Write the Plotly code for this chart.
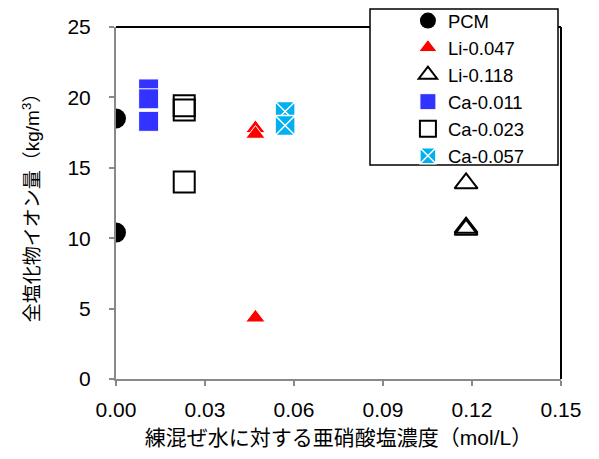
import plotly.graph_objects as go

pcm_x = [0.0, 0.0]
pcm_y = [18.5, 10.4]
li047_x = [0.047, 0.047, 0.047]
li047_y = [17.8, 17.4, 4.35]
li118_x = [0.118, 0.118, 0.118]
li118_y = [13.9, 10.75, 10.6]
ca011_x = [0.011, 0.011, 0.011]
ca011_y = [20.6, 19.9, 18.3]
ca023_x = [0.023, 0.023, 0.023]
ca023_y = [19.4, 19.1, 14.0]
ca057_x = [0.057, 0.057]
ca057_y = [19.0, 18.0]

FONT = "Liberation Sans, Arial, Noto Sans CJK JP, sans-serif"

fig = go.Figure()
fig.add_trace(go.Scatter(x=pcm_x, y=pcm_y, mode="markers", name="PCM",
                         marker=dict(symbol="circle", size=20, color="black",
                                     line=dict(width=0))))
fig.add_trace(go.Scatter(x=li047_x, y=li047_y, mode="markers", name="Li-0.047",
                         marker=dict(symbol="triangle-up", size=17, color="red",
                                     line=dict(color="white", width=1))))
fig.add_trace(go.Scatter(x=li118_x, y=li118_y, mode="markers", name="Li-0.118",
                         marker=dict(symbol="triangle-up-open", size=20, color="black",
                                     line=dict(color="black", width=2))))
fig.add_trace(go.Scatter(x=ca011_x, y=ca011_y, mode="markers", name="Ca-0.011",
                         marker=dict(symbol="square", size=20, color="#3333FF",
                                     line=dict(color="white", width=1))))
fig.add_trace(go.Scatter(x=ca023_x, y=ca023_y, mode="markers", name="Ca-0.023",
                         marker=dict(symbol="square-open", size=21, color="black",
                                     line=dict(color="black", width=2))))
fig.add_trace(go.Scatter(x=ca057_x, y=ca057_y, mode="markers", name="Ca-0.057",
                         marker=dict(symbol="square-x", size=20, color="#00B0F0",
                                     line=dict(color="white", width=1.5))))

L, T, R, B = 108, 19, 38, 80

fig.update_layout(
    width=591, height=451,
    margin=dict(l=L, r=R, t=T, b=B, autoexpand=False),
    paper_bgcolor="white", plot_bgcolor="white",
    font=dict(family=FONT, size=21, color="black"),
    showlegend=True,
    legend=dict(x=0.656, y=1.071, xanchor="left", yanchor="top",
                bgcolor="rgba(0,0,0,0)", borderwidth=0,
                font=dict(size=18.5), itemsizing="trace",
                tracegroupgap=0, itemwidth=30),
    xaxis=dict(range=[0, 0.15], dtick=0.03, tick0=0, tickformat=".2f",
               showgrid=False, zeroline=False, showline=True,
               linecolor="#898989", linewidth=2, ticks="outside",
               tickcolor="#898989", ticklen=5, tickwidth=1.5,
               ticklabelstandoff=6, automargin=False,
               title=dict(text="練混ぜ水に対する亜硝酸塩濃度（mol/L）",
                          font=dict(size=21), standoff=10)),
    yaxis=dict(range=[0, 25], dtick=5, tick0=0,
               showgrid=False, zeroline=False, showline=True,
               linecolor="#898989", linewidth=2, ticks="outside",
               tickcolor="#898989", ticklen=5, tickwidth=1.5,
               ticklabelstandoff=14, automargin=False,
               title=dict(text="全塩化物イオン量（kg/m<sup>3</sup>）",
                          font=dict(size=19), standoff=23)),
    shapes=[
        dict(type="line", xref="paper", yref="paper", x0=0, x1=1, y0=1, y1=1,
             line=dict(color="black", width=2), layer="below"),
        dict(type="line", xref="paper", yref="paper", x0=1, x1=1, y0=0, y1=1,
             line=dict(color="black", width=2), layer="below"),
        dict(type="rect", xref="paper", yref="paper",
             x0=(370 - 116) / 445, x1=(558 - 116) / 445,
             y0=(379 - 165) / 352, y1=(379 - 9) / 352,
             fillcolor="white", line=dict(color="black", width=1.5),
             layer="above"),
    ],
)

fig.write_html("out.html")
